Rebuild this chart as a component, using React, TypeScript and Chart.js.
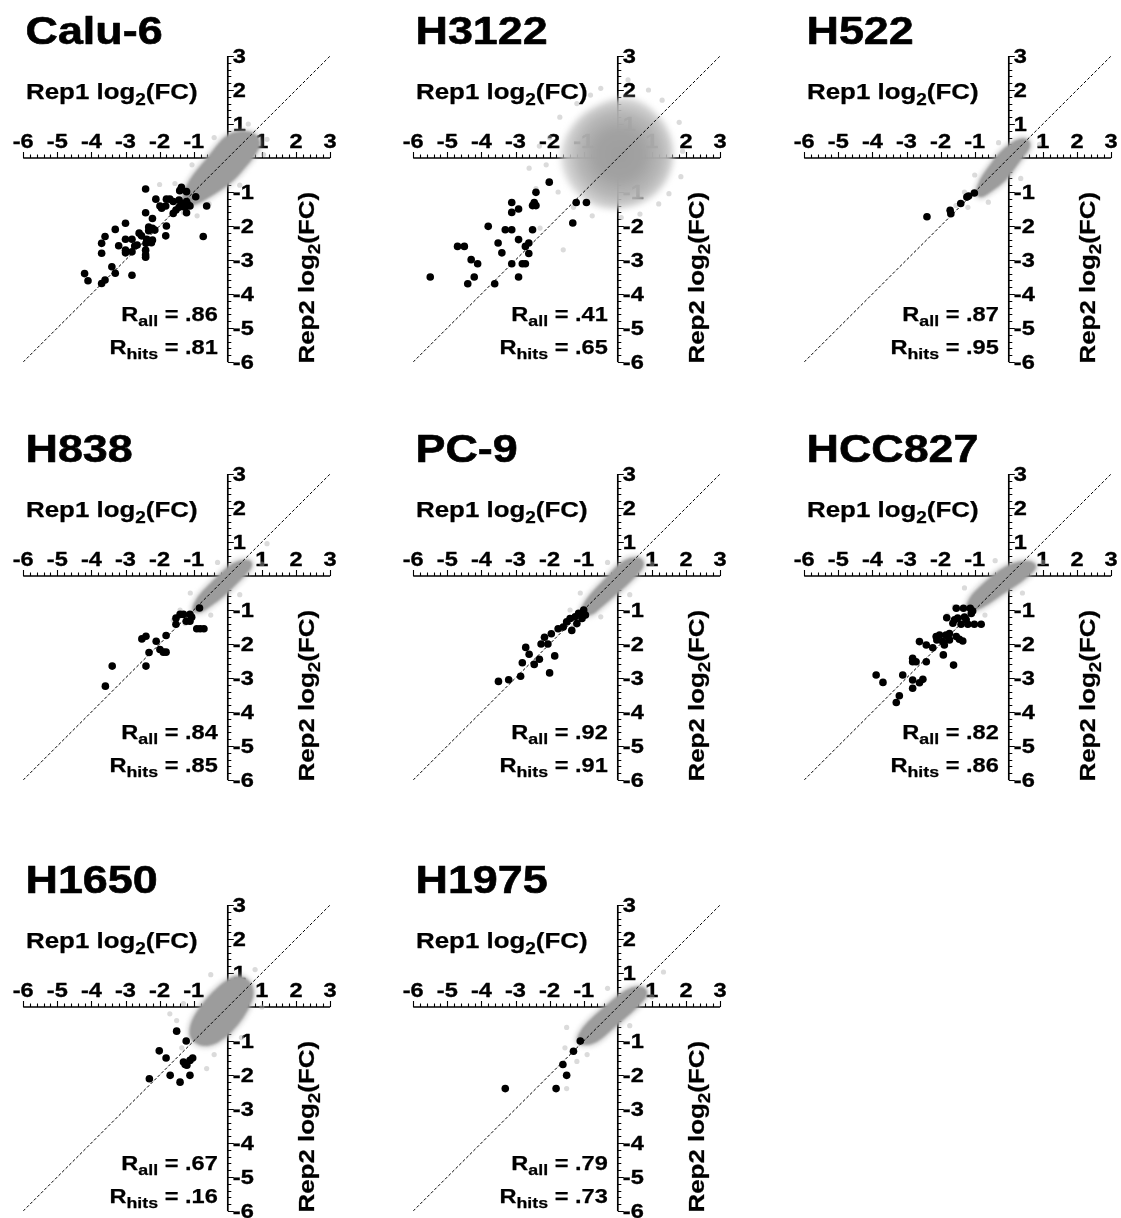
import React, { useEffect, useRef } from 'react';
import { Chart, registerables } from 'chart.js';

Chart.register(...registerables);

type P = [number, number];

// ---------------- data ----------------
const panelNames = ['Calu-6', 'H3122', 'H522', 'H838', 'PC-9', 'HCC827', 'H1650', 'H1975'];
const rAllValues = ['.86', '.41', '.87', '.84', '.92', '.82', '.67', '.79'];
const rHitsValues = ['.81', '.65', '.95', '.85', '.91', '.86', '.16', '.73'];
const xTickLabels = [-6, -5, -4, -3, -2, -1, 1, 2, 3];
const yTickLabels = [3, 2, 1, -1, -2, -3, -4, -5, -6];
const axisMin = -6;
const axisMax = 3;
const identityLine: P[] = [[-6, -6], [3, 3]];

// hits (black points)
const calu6Hits: P[] = [
  [-2.41, -0.91], [-1.36, -0.86], [-1.41, -0.96], [-1.21, -0.99], [-0.94, -1.14], [-2.11, -1.21],
  [-1.8, -1.21], [-1.7, -1.21], [-1.99, -1.41], [-1.82, -1.41], [-1.94, -1.48], [-1.6, -1.28],
  [-1.43, -1.24], [-1.36, -1.33], [-1.21, -1.28], [-1.16, -1.38], [-1.11, -1.41], [-1.43, -1.45],
  [-1.26, -1.45], [-2.41, -1.61], [-2.21, -1.78], [-1.6, -1.63], [-1.52, -1.53], [-1.21, -1.61],
  [-0.62, -1.41], [-3.0, -1.92], [-3.3, -2.1], [-2.32, -2.03], [-2.21, -2.07], [-2.32, -2.14],
  [-2.14, -2.12], [-1.8, -2.0], [-1.82, -2.29], [-0.72, -2.31], [-3.6, -2.31], [-3.7, -2.51],
  [-3.0, -2.39], [-2.81, -2.39], [-2.6, -2.21], [-2.53, -2.29], [-2.38, -2.39], [-2.21, -2.41],
  [-2.24, -2.49], [-2.4, -2.51], [-3.2, -2.58], [-3.0, -2.71], [-3.0, -2.79], [-2.81, -2.76],
  [-2.66, -2.56], [-2.73, -2.59], [-3.7, -2.8], [-2.41, -2.71], [-2.41, -2.85], [-2.41, -2.92],
  [-3.4, -3.2], [-3.3, -3.39], [-4.2, -3.4], [-4.1, -3.61], [-3.7, -3.69], [-3.6, -3.59], [-2.81, -3.45],
];
const h3122Hits: P[] = [
  [-5.5, -3.5], [-4.7, -2.6], [-4.5, -2.6], [-4.3, -2.99], [-4.11, -3.11], [-4.4, -3.7], [-4.21, -3.5],
  [-3.8, -2.01], [-3.61, -3.7], [-3.51, -2.5], [-3.4, -2.79], [-3.3, -2.11], [-3.11, -1.31],
  [-3.11, -1.6], [-3.11, -2.11], [-3.11, -3.11], [-2.91, -1.5], [-2.91, -2.4], [-2.91, -3.5],
  [-2.8, -3.11], [-2.71, -3.11], [-2.71, -2.6], [-2.61, -2.5], [-2.61, -2.81], [-2.5, -2.11],
  [-2.5, -1.4], [-2.4, -1.4], [-2.45, -1.31], [-2.4, -1.01], [-2.01, -0.71], [-1.22, -1.31],
  [-0.92, -1.31], [-1.32, -1.91],
];
const h522Hits: P[] = [
  [-2.4, -1.73], [-1.72, -1.54], [-1.7, -1.64], [-1.41, -1.34], [-1.23, -1.15], [-1.18, -1.12], [-1.01, -1.03],
];
const h838Hits: P[] = [
  [-3.59, -3.24], [-3.39, -2.65], [-2.4, -2.65], [-2.31, -2.25], [-2.1, -1.92], [-2.52, -1.85],
  [-2.4, -1.77], [-1.99, -2.16], [-1.89, -2.24], [-1.81, -2.24], [-1.81, -1.75], [-1.52, -1.42],
  [-1.52, -1.24], [-1.4, -1.13], [-1.3, -1.13], [-1.22, -1.33], [-1.11, -1.33], [-1.11, -1.13],
  [-0.83, -0.94], [-0.91, -1.55], [-0.81, -1.55], [-0.7, -1.55], [-1.06, -1.21],
];
const pc9Hits: P[] = [
  [-3.5, -3.1], [-3.2, -3.05], [-2.85, -2.95], [-2.8, -2.55], [-2.7, -2.1], [-2.6, -2.3],
  [-2.45, -2.6], [-2.3, -2.45], [-2.25, -2.0], [-2.15, -1.8], [-2.05, -2.0], [-1.95, -1.7],
  [-1.85, -2.35], [-1.75, -1.55], [-1.6, -1.5], [-1.5, -1.35], [-1.4, -1.25], [-1.35, -1.6],
  [-1.25, -1.2], [-1.2, -1.4], [-1.15, -1.1], [-1.05, -1.25], [-1.0, -1.0], [-0.95, -1.15], [-2.0, -2.85],
];
const hcc827Hits: P[] = [
  [-3.89, -2.91], [-3.69, -3.13], [-3.3, -3.72], [-3.21, -3.52], [-3.11, -2.91], [-2.82, -3.06],
  [-2.82, -3.3], [-2.62, -3.14], [-2.52, -3.04], [-2.82, -2.42], [-2.82, -2.52], [-2.72, -2.52],
  [-2.42, -2.52], [-2.62, -1.93], [-2.42, -2.03], [-2.23, -2.11], [-2.11, -1.88], [-2.03, -1.74],
  [-2.13, -1.78], [-1.94, -1.93], [-1.89, -2.03], [-1.92, -2.32], [-1.84, -1.74], [-1.79, -1.78],
  [-1.74, -1.88], [-1.62, -2.62], [-1.54, -1.78], [-1.45, -1.86], [-1.35, -1.91], [-1.82, -1.23],
  [-1.64, -1.39], [-1.59, -1.29], [-1.5, -1.24], [-1.54, -0.95], [-1.33, -0.95], [-1.3, -1.21],
  [-1.25, -1.29], [-1.4, -1.42], [-1.2, -1.42], [-1.13, -0.95], [-1.1, -1.1], [-1.06, -1.03],
  [-1.01, -1.42], [-0.81, -1.42], [-1.74, -1.69],
];
const h1650Hits: P[] = [
  [-2.3, -2.11], [-2.01, -1.29], [-1.81, -1.5], [-1.69, -2.01], [-1.5, -0.71], [-1.4, -2.21],
  [-1.22, -1.0], [-1.3, -1.62], [-1.2, -1.71], [-1.11, -1.57], [-1.03, -1.5], [-1.25, -1.69], [-1.11, -2.01],
];
const h1975Hits: P[] = [
  [-3.3, -2.4], [-1.81, -2.4], [-1.5, -2.01], [-1.61, -1.69], [-1.3, -1.3], [-1.1, -1.0],
];

// outlines of the dense grey cloud
const calu6Cloud: P[] = [
  [-1.4, -1.35], [-1.25, -0.85], [-1.0, -0.45], [-0.65, -0.05], [-0.35, 0.35], [-0.05, 0.68], [0.35, 0.82],
  [0.8, 0.75], [1.0, 0.45], [0.8, 0.05], [0.5, -0.3], [0.2, -0.65], [-0.2, -0.95], [-0.6, -1.2], [-1.0, -1.42],
];
const h3122Cloud: P[] = [
  [-1.7, 0.2], [-1.5, 0.75], [-1.1, 1.25], [-0.55, 1.6], [0.05, 1.8], [0.55, 1.75], [1.0, 1.45],
  [1.45, 0.95], [1.65, 0.3], [1.6, -0.35], [1.3, -0.9], [0.8, -1.3], [0.2, -1.5], [-0.4, -1.5],
  [-0.95, -1.3], [-1.4, -0.85], [-1.65, -0.35],
];
const h522Cloud: P[] = [
  [-1.0, -1.05], [-0.85, -0.6], [-0.55, -0.2], [-0.3, 0.15], [0.05, 0.45], [0.35, 0.6], [0.6, 0.55],
  [0.65, 0.3], [0.4, 0.0], [0.15, -0.35], [-0.1, -0.7], [-0.45, -0.95], [-0.8, -1.2],
];
const h838Cloud: P[] = [
  [-1.1, -1.05], [-0.9, -0.6], [-0.6, -0.3], [-0.3, 0.0], [0.0, 0.3], [0.3, 0.45], [0.65, 0.5],
  [0.75, 0.3], [0.5, 0.0], [0.2, -0.3], [-0.1, -0.6], [-0.45, -0.85], [-0.8, -1.1],
];
const pc9Cloud: P[] = [
  [-1.15, -1.1], [-0.95, -0.7], [-0.65, -0.35], [-0.3, 0.0], [0.0, 0.35], [0.35, 0.55], [0.7, 0.55],
  [0.8, 0.3], [0.55, 0.0], [0.25, -0.3], [-0.1, -0.6], [-0.45, -0.9], [-0.8, -1.2],
];
const hcc827Cloud: P[] = [
  [-1.3, -1.0], [-1.15, -0.6], [-0.8, -0.25], [-0.45, 0.05], [-0.1, 0.3], [0.3, 0.45], [0.7, 0.45],
  [0.85, 0.25], [0.55, -0.05], [0.2, -0.3], [-0.2, -0.55], [-0.6, -0.85], [-1.0, -1.05],
];
const h1650Cloud: P[] = [
  [-1.15, -0.9], [-1.1, -0.45], [-0.8, 0.05], [-0.45, 0.45], [-0.05, 0.8], [0.3, 0.95], [0.65, 0.8],
  [0.8, 0.4], [0.6, -0.1], [0.3, -0.55], [-0.1, -0.95], [-0.5, -1.15], [-0.85, -1.15],
];
const h1975Cloud: P[] = [
  [-1.25, -1.0], [-1.05, -0.6], [-0.7, -0.25], [-0.35, 0.05], [0.0, 0.35], [0.4, 0.6], [0.8, 0.6],
  [0.9, 0.35], [0.6, 0.0], [0.2, -0.35], [-0.2, -0.7], [-0.6, -1.05], [-1.0, -1.15],
];

// scattered grey points around the clouds
const calu6Spread: P[] = [
  [-2.0, -0.78], [-1.55, -0.75], [-1.55, -1.25], [-1.3, -1.6], [-0.55, -1.35], [0.35, -0.8],
  [1.05, 0.1], [1.15, 0.55], [0.6, 1.0], [-0.4, 0.6], [-1.05, -0.2], [-0.9, -1.7],
];
const h3122Spread: P[] = [
  [-2.0, 0.6], [-2.1, -0.2], [-1.7, 1.2], [-1.75, -1.0], [-1.2, 1.6], [-1.3, -1.45], [-0.8, 1.85],
  [-0.5, 2.05], [0.1, -1.75], [0.3, 2.3], [0.65, -1.65], [0.9, 2.0], [1.3, 1.7], [1.5, -1.05],
  [1.8, 1.05], [1.9, 0.2], [1.85, -0.55], [-2.4, -0.9], [-1.6, -2.7], [-2.28, -2.06], [-2.6, -0.3],
  [-2.3, 0.35], [-0.75, -1.7], [1.2, -1.35],
];
const h522Spread: P[] = [
  [-1.3, -1.0], [-1.2, -1.45], [-0.6, -1.3], [-1.0, -0.5], [-0.3, 0.45], [0.35, -0.6], [0.9, 0.4], [-1.55, -1.4],
];
const h838Spread: P[] = [
  [-1.4, -1.0], [-1.25, -1.4], [-0.5, -1.15], [-1.1, -0.5], [-0.3, 0.4], [0.35, -0.55], [1.0, 0.35],
  [1.15, 0.95], [-1.6, -1.3],
];
const pc9Spread: P[] = [
  [-1.4, -1.0], [-1.3, -1.45], [-0.5, -1.2], [-1.1, -0.5], [-0.3, 0.4], [0.35, -0.55], [1.0, 0.35], [-1.6, -1.55],
];
const hcc827Spread: P[] = [
  [-1.6, -0.9], [-1.5, -1.3], [-0.7, -1.15], [-1.3, -0.35], [-0.4, 0.45], [0.4, -0.5], [1.0, 0.4], [-1.8, -1.15],
];
const h1650Spread: P[] = [
  [-1.5, -0.4], [-1.35, -1.2], [-0.4, -1.4], [0.4, -0.9], [-1.3, 0.1], [-0.5, 0.95], [0.8, 1.1], [1.0, 0.0],
  [-0.62, -1.81], [-1.7, -0.2],
];
const h1975Spread: P[] = [
  [-1.55, -1.2], [-1.5, -0.6], [-0.9, -1.4], [-0.3, 0.55], [0.35, -0.55], [1.0, 0.3], [1.34, 1.03], [-1.5, -2.4], [-1.2, -1.6],
];

// ---------------- layout / style ----------------
const COL_X = [0, 390, 781];
const ROW_Y = [0, 418, 849];
const CANVAS_W = 350;
const CANVAS_H = 369;
const PAD = { left: 23.2, right: CANVAS_W - 330.1, top: 56, bottom: CANVAS_H - 362 };
const FONT = "'Liberation Sans', Arial, Helvetica, sans-serif";
const SX = 1.15; // horizontal widening of the lettering

interface Panel {
  name: string;
  rAll: string;
  rHits: string;
  hits: P[];
  cloud: P[];
  diffuse: boolean;
  spread: P[];
}

const hitsList = [calu6Hits, h3122Hits, h522Hits, h838Hits, pc9Hits, hcc827Hits, h1650Hits, h1975Hits];
const spreadList = [calu6Spread, h3122Spread, h522Spread, h838Spread, pc9Spread, hcc827Spread, h1650Spread, h1975Spread];
const cloudList = [calu6Cloud, h3122Cloud, h522Cloud, h838Cloud, pc9Cloud, hcc827Cloud, h1650Cloud, h1975Cloud];

const panels: Panel[] = panelNames.map((name, i) => ({
  name,
  rAll: rAllValues[i],
  rHits: rHitsValues[i],
  hits: hitsList[i],
  spread: spreadList[i],
  cloud: cloudList[i],
  diffuse: name === 'H3122',
}));

const toXY = (pts: P[]) => pts.map(([x, y]) => ({ x, y }));

function drawText(ctx: CanvasRenderingContext2D, s: string, x: number, y: number, size: number, align: CanvasTextAlign = 'left', baseline: CanvasTextBaseline = 'alphabetic', thick = 0) {
  ctx.save();
  ctx.font = `bold ${size}px ${FONT}`;
  ctx.textAlign = align;
  ctx.textBaseline = baseline;
  ctx.translate(x, y);
  ctx.scale(SX, 1);
  ctx.fillStyle = '#000';
  ctx.fillText(s, 0, 0);
  if (thick > 0) {
    ctx.strokeStyle = '#000';
    ctx.lineWidth = thick;
    ctx.lineJoin = 'round';
    ctx.strokeText(s, 0, 0);
  }
  ctx.restore();
}

function textW(ctx: CanvasRenderingContext2D, s: string, size: number) {
  ctx.save();
  ctx.font = `bold ${size}px ${FONT}`;
  const w = ctx.measureText(s).width * SX;
  ctx.restore();
  return w;
}

function drawRuns(ctx: CanvasRenderingContext2D, runs: [string, number, number][], x: number, y: number, thick = 0) {
  let cx = x;
  for (const [s, size, dy] of runs) {
    drawText(ctx, s, cx, y + dy, size, 'left', 'alphabetic', thick);
    cx += textW(ctx, s, size);
  }
}
function runsWidth(ctx: CanvasRenderingContext2D, runs: [string, number, number][]) {
  return runs.reduce((a, [s, size]) => a + textW(ctx, s, size), 0);
}

function blobPath(ctx: CanvasRenderingContext2D, pts: { x: number; y: number }[]) {
  const n = pts.length;
  const mid = (a: { x: number; y: number }, b: { x: number; y: number }) => ({ x: (a.x + b.x) / 2, y: (a.y + b.y) / 2 });
  ctx.beginPath();
  const m0 = mid(pts[n - 1], pts[0]);
  ctx.moveTo(m0.x, m0.y);
  for (let i = 0; i < n; i++) {
    const p = pts[i];
    const m = mid(p, pts[(i + 1) % n]);
    ctx.quadraticCurveTo(p.x, p.y, m.x, m.y);
  }
  ctx.closePath();
}

function decoPlugin(panel: Panel) {
  return {
    id: 'deco',
    beforeDatasetsDraw(chart: any) {
      const ctx: CanvasRenderingContext2D = chart.ctx;
      const xs = chart.scales.x;
      const ys = chart.scales.y;
      const x0 = xs.getPixelForValue(0);
      const y0 = ys.getPixelForValue(0);
      ctx.save();
      ctx.strokeStyle = '#000';
      ctx.lineWidth = 1.7;
      ctx.beginPath();
      ctx.moveTo(xs.getPixelForValue(axisMin), y0);
      ctx.lineTo(xs.getPixelForValue(axisMax), y0);
      ctx.moveTo(x0, ys.getPixelForValue(axisMax));
      ctx.lineTo(x0, ys.getPixelForValue(axisMin));
      ctx.stroke();
      ctx.lineWidth = 1.1;
      ctx.beginPath();
      for (let k = axisMin * 5; k <= axisMax * 5; k++) {
        const major = k % 5 === 0;
        const len = major ? 6 : 3.5;
        const px = Math.round(xs.getPixelForValue(k / 5)) + 0.5;
        ctx.moveTo(px, y0);
        ctx.lineTo(px, y0 - len);
        const py = Math.round(ys.getPixelForValue(k / 5)) + 0.5;
        ctx.moveTo(x0, py);
        ctx.lineTo(x0 + len, py);
      }
      ctx.stroke();
      ctx.restore();
      for (const v of xTickLabels) {
        drawText(ctx, String(v), xs.getPixelForValue(v), y0 - 10, 20.5, 'center', 'alphabetic', 0.35);
      }
      for (const v of yTickLabels) {
        drawText(ctx, String(v), x0 + 5, ys.getPixelForValue(v) + 1.5, 20.5, 'left', 'middle', 0.35);
      }

      // grey cloud
      const pts = panel.cloud.map(([x, y]) => ({ x: xs.getPixelForValue(x), y: ys.getPixelForValue(y) }));
      if (panel.diffuse) {
        const cx = xs.getPixelForValue(0.05);
        const cy = ys.getPixelForValue(0.1);
        const r = Math.max(...pts.map((p) => Math.hypot(p.x - cx, p.y - cy)));
        const g = ctx.createRadialGradient(cx, cy, 0, cx, cy, r);
        g.addColorStop(0, 'rgba(158,158,158,1)');
        g.addColorStop(0.4, 'rgba(162,162,162,1)');
        g.addColorStop(0.7, 'rgba(180,180,180,0.95)');
        g.addColorStop(0.9, 'rgba(200,200,200,0.8)');
        g.addColorStop(1, 'rgba(215,215,215,0.6)');
        ctx.save();
        ctx.filter = 'blur(3px)';
        blobPath(ctx, pts);
        ctx.fillStyle = g;
        ctx.fill();
        ctx.restore();
      } else {
        ctx.save();
        ctx.filter = 'blur(2px)';
        blobPath(ctx, pts);
        ctx.lineJoin = 'round';
        ctx.lineWidth = 5;
        ctx.strokeStyle = 'rgba(170,170,170,0.45)';
        ctx.stroke();
        ctx.restore();
        ctx.save();
        ctx.filter = 'blur(0.8px)';
        blobPath(ctx, pts);
        ctx.fillStyle = '#9c9c9c';
        ctx.fill();
        ctx.restore();
      }
    },
    afterDatasetsDraw(chart: any) {
      const ctx: CanvasRenderingContext2D = chart.ctx;
      const xs = chart.scales.x;
      const ys = chart.scales.y;
      const x0 = xs.getPixelForValue(0);
      const y0 = ys.getPixelForValue(0);
      const { left, top, bottom } = chart.chartArea;
      drawText(ctx, panel.name, left + 2.3, top - 12.5, 39, 'left', 'alphabetic', 0.6);
      drawRuns(ctx, [['Rep1 log', 22.5, 0], ['2', 16.5, 6], ['(FC)', 22.5, 0]], left + 2.8, y0 - 59, 0.25);
      ctx.save();
      ctx.translate(x0 + 86, bottom + 1.5);
      ctx.rotate(-Math.PI / 2);
      drawRuns(ctx, [['Rep2 log', 22.5, 0], ['2', 16.5, 6], ['(FC)', 22.5, 0]], 0, 0, 0.25);
      ctx.restore();
      const rx = x0 - 10;
      const allRuns: [string, number, number][] = [['R', 20.5, 0], ['all', 15.5, 5], [' = ' + panel.rAll, 20.5, 0]];
      drawRuns(ctx, allRuns, rx - runsWidth(ctx, allRuns), y0 + 162.5, 0.25);
      const hitRuns: [string, number, number][] = [['R', 20.5, 0], ['hits', 15.5, 5], [' = ' + panel.rHits, 20.5, 0]];
      drawRuns(ctx, hitRuns, rx - runsWidth(ctx, hitRuns), y0 + 196, 0.25);
    },
  };
}

export default function App() {
  const refs = useRef<(HTMLCanvasElement | null)[]>([]);

  useEffect(() => {
    const charts = panels.map((p, i) => {
      const canvas = refs.current[i] as HTMLCanvasElement;
      return new Chart(canvas, {
        type: 'scatter',
        data: {
          datasets: [
            {
              data: toXY(p.hits),
              backgroundColor: '#000',
              borderWidth: 0,
              pointRadius: 3.8,
              order: 0,
            },
            {
              type: 'line',
              data: toXY(identityLine),
              borderColor: '#000',
              borderWidth: 1,
              borderDash: [3, 2],
              pointRadius: 0,
              showLine: true,
              fill: false,
              order: 1,
            } as any,
            {
              data: toXY(p.spread),
              backgroundColor: 'rgba(175,175,175,0.45)',
              borderWidth: 0,
              pointRadius: 2.6,
              order: 2,
            },
          ],
        },
        options: {
          responsive: false,
          animation: false,
          events: [],
          layout: { padding: PAD },
          scales: {
            x: { type: 'linear', min: axisMin, max: axisMax, display: false },
            y: { type: 'linear', min: axisMin, max: axisMax, display: false },
          },
          plugins: { legend: { display: false }, tooltip: { enabled: false } },
        },
        plugins: [decoPlugin(p)],
      });
    });
    return () => charts.forEach((c) => c.destroy());
  }, []);

  return (
    <div style={{ position: 'absolute', left: 0, top: 0, width: 1121, height: 1218, overflow: 'hidden', background: '#fff' }}>
      {panels.map((p, i) => (
        <canvas
          key={p.name}
          ref={(el) => { refs.current[i] = el; }}
          width={CANVAS_W}
          height={CANVAS_H}
          style={{ position: 'absolute', left: COL_X[i % 3], top: ROW_Y[Math.floor(i / 3)], width: CANVAS_W, height: CANVAS_H }}
        />
      ))}
    </div>
  );
}
